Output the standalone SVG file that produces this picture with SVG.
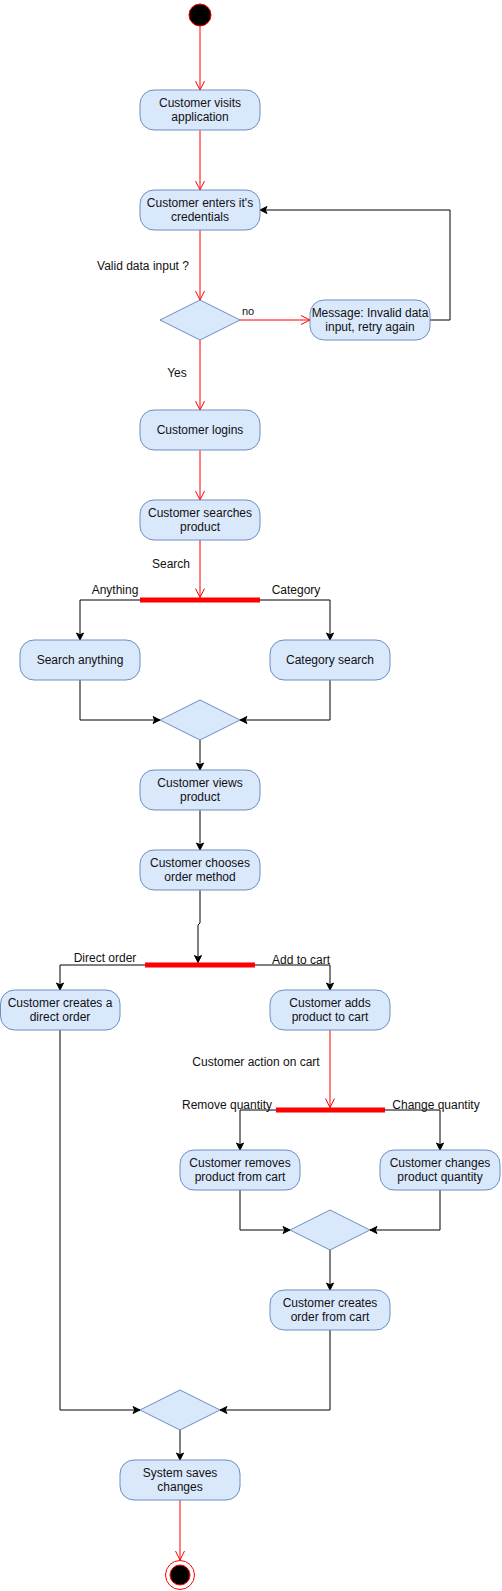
<svg xmlns="http://www.w3.org/2000/svg" width="502" height="1591" viewBox="0 0 502 1591">
<style>
.n rect{fill:#dae8fc;stroke:#6c8ebf;stroke-width:1}
.n polygon{fill:#dae8fc;stroke:#6c8ebf;stroke-width:1}
.t{font-family:"Liberation Sans",Arial,sans-serif;font-size:12px;fill:#111;text-anchor:middle}
.s{font-size:11px}
.r{fill:none;stroke:#ff0000;stroke-width:1;marker-end:url(#open)}
.k{fill:none;stroke:#000;stroke-width:1;marker-end:url(#cls)}
.bar{fill:#ff0000;stroke:none}
</style>
<defs>
<marker id="open" markerUnits="userSpaceOnUse" viewBox="-10 -6 12 12" refX="0" refY="0" markerWidth="12" markerHeight="12" orient="auto">
<path d="M-9,-4.5 L0,0 L-9,4.5" fill="none" stroke="#ff0000" stroke-width="1"/>
</marker>
<marker id="cls" markerUnits="userSpaceOnUse" viewBox="-8 -5 10 10" refX="0" refY="0" markerWidth="10" markerHeight="10" orient="auto">
<path d="M0,0 L-7,-3.5 L-5.25,0 L-7,3.5 Z" fill="#000" stroke="#000" stroke-width="1"/>
</marker>
</defs>

<g id="connectors">
<path class="r" d="M200,26 L200,90"/>
<path class="r" d="M200,130 L200,190"/>
<path class="r" d="M200,230 L200,300"/>
<path class="r" d="M240,320 L310,320"/>
<path class="k" d="M430,320 L450,320 L450,210 L260,210"/>
<path class="r" d="M200,340 L200,410"/>
<path class="r" d="M200,450 L200,500"/>
<path class="r" d="M200,540 L200,597.5"/>
<path class="k" d="M140,600 L80,600 L80,640"/>
<path class="k" d="M260,600 L330,600 L330,640"/>
<path class="k" d="M80,680 L80,720 L160,720"/>
<path class="k" d="M330,680 L330,720 L240,720"/>
<path class="k" d="M200,740 L200,770"/>
<path class="k" d="M200,810 L200,850"/>
<path class="k" d="M200,890 L200,923 L198,925 L198,962.5"/>
<path class="k" d="M145,965 L60,965 L60,990"/>
<path class="k" d="M255,965 L330,965 L330,990"/>
<path class="r" d="M330,1030 L330,1107.5"/>
<path class="k" d="M276,1110 L240,1110 L240,1150"/>
<path class="k" d="M385,1110 L440,1110 L440,1150"/>
<path class="k" d="M240,1190 L240,1230 L290,1230"/>
<path class="k" d="M440,1190 L440,1230 L370,1230"/>
<path class="k" d="M330,1250 L330,1290"/>
<path class="k" d="M60,1030 L60,1410 L140,1410"/>
<path class="k" d="M330,1330 L330,1410 L220,1410"/>
<path class="k" d="M180,1430 L180,1460"/>
<path class="r" d="M180,1500 L180,1560"/>
<text class="t" x="143" y="270">Valid data input ?</text>
<text class="t s" x="248" y="315">no</text>
<text class="t" x="177" y="377">Yes</text>
<text class="t" x="171" y="568">Search</text>
<text class="t" x="115" y="594">Anything</text>
<text class="t" x="296" y="594">Category</text>
<text class="t" x="105" y="962">Direct order</text>
<text class="t" x="301" y="964">Add to cart</text>
<text class="t" x="256" y="1066">Customer action on cart</text>
<text class="t" x="227" y="1109">Remove quantity</text>
<text class="t" x="436" y="1109">Change quantity</text>
</g>

<g id="start"><circle cx="200" cy="15" r="11" fill="#000" stroke="#ff0000" stroke-width="1"/></g>

<g id="visits" class="n"><rect x="140" y="90" width="120" height="40" rx="14"/><text class="t" x="200" y="107">Customer visits</text><text class="t" x="200" y="121">application</text></g>
<g id="enters" class="n"><rect x="140" y="190" width="120" height="40" rx="14"/><text class="t" x="200" y="207">Customer enters it's</text><text class="t" x="200" y="221">credentials</text></g>
<g id="valid" class="n"><polygon points="200,300 240,320 200,340 160,320"/></g>
<g id="message" class="n"><rect x="310" y="300" width="120" height="40" rx="14"/><text class="t" x="370" y="317">Message: Invalid data</text><text class="t" x="370" y="331">input, retry again</text></g>
<g id="logins" class="n"><rect x="140" y="410" width="120" height="40" rx="14"/><text class="t" x="200" y="434">Customer logins</text></g>
<g id="searches" class="n"><rect x="140" y="500" width="120" height="40" rx="14"/><text class="t" x="200" y="517">Customer searches</text><text class="t" x="200" y="531">product</text></g>
<g id="fork1"><rect class="bar" x="140" y="597.5" width="120" height="5"/></g>
<g id="anything" class="n"><rect x="20" y="640" width="120" height="40" rx="14"/><text class="t" x="80" y="664">Search anything</text></g>
<g id="category" class="n"><rect x="270" y="640" width="120" height="40" rx="14"/><text class="t" x="330" y="664">Category search</text></g>
<g id="merge1" class="n"><polygon points="200,700 240,720 200,740 160,720"/></g>
<g id="views" class="n"><rect x="140" y="770" width="120" height="40" rx="14"/><text class="t" x="200" y="787">Customer views</text><text class="t" x="200" y="801">product</text></g>
<g id="chooses" class="n"><rect x="140" y="850" width="120" height="40" rx="14"/><text class="t" x="200" y="867">Customer chooses</text><text class="t" x="200" y="881">order method</text></g>
<g id="fork2"><rect class="bar" x="145" y="962.5" width="110" height="5"/></g>
<g id="direct" class="n"><rect x="0.5" y="990" width="119.5" height="40" rx="14"/><text class="t" x="60" y="1007">Customer creates a</text><text class="t" x="60" y="1021">direct order</text></g>
<g id="adds" class="n"><rect x="270" y="990" width="120" height="40" rx="14"/><text class="t" x="330" y="1007">Customer adds</text><text class="t" x="330" y="1021">product to cart</text></g>
<g id="fork3"><rect class="bar" x="276" y="1107.5" width="109" height="5"/></g>
<g id="removes" class="n"><rect x="180" y="1150" width="120" height="40" rx="14"/><text class="t" x="240" y="1167">Customer removes</text><text class="t" x="240" y="1181">product from cart</text></g>
<g id="changes" class="n"><rect x="380" y="1150" width="120" height="40" rx="14"/><text class="t" x="440" y="1167">Customer changes</text><text class="t" x="440" y="1181">product quantity</text></g>
<g id="merge2" class="n"><polygon points="330,1210 370,1230 330,1250 290,1230"/></g>
<g id="fromcart" class="n"><rect x="270" y="1290" width="120" height="40" rx="14"/><text class="t" x="330" y="1307">Customer creates</text><text class="t" x="330" y="1321">order from cart</text></g>
<g id="merge3" class="n"><polygon points="180,1390 220,1410 180,1430 140,1410"/></g>
<g id="saves" class="n"><rect x="120" y="1460" width="120" height="40" rx="14"/><text class="t" x="180" y="1477">System saves</text><text class="t" x="180" y="1491">changes</text></g>
<g id="end"><circle cx="180" cy="1575" r="14.5" fill="#fff" stroke="#ff0000" stroke-width="1"/><circle cx="180" cy="1575" r="10" fill="#000" stroke="#ff0000" stroke-width="1"/></g>
</svg>
